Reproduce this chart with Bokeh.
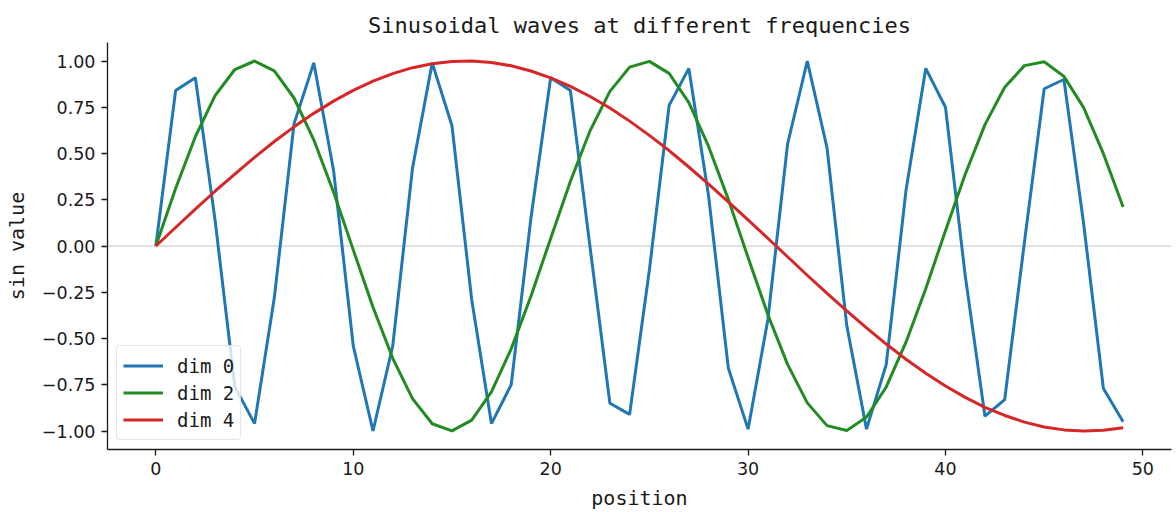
from bokeh.plotting import figure
from bokeh.models import Range1d, FixedTicker, Span, Legend, LegendItem, ColumnDataSource
from bokeh.embed import file_html
from bokeh.resources import INLINE

# Position index along the sequence
position = list(range(50))

# Sine values per encoding dimension
dim0 = [0.00, 0.84, 0.91, 0.14, -0.76, -0.96, -0.28, 0.66, 0.99, 0.41,
        -0.54, -1.00, -0.54, 0.42, 0.99, 0.65, -0.29, -0.96, -0.75, 0.15,
        0.91, 0.84, -0.01, -0.85, -0.91, -0.13, 0.76, 0.96, 0.27, -0.66,
        -0.99, -0.40, 0.55, 1.00, 0.53, -0.43, -0.99, -0.64, 0.30, 0.96,
        0.75, -0.16, -0.92, -0.83, 0.02, 0.85, 0.90, 0.12, -0.77, -0.95]
dim2 = [0.000, 0.311, 0.591, 0.813, 0.954, 1.000, 0.947, 0.800, 0.574, 0.292,
        -0.021, -0.331, -0.607, -0.825, -0.961, -0.999, -0.941, -0.788, -0.556, -0.272,
        0.041, 0.350, 0.624, 0.836, 0.967, 0.998, 0.933, 0.775, 0.538, 0.252,
        -0.062, -0.370, -0.640, -0.848, -0.971, -0.997, -0.925, -0.762, -0.520, -0.231,
        0.083, 0.388, 0.656, 0.858, 0.975, 0.996, 0.917, 0.748, 0.499, 0.211]
dim4 = [0.000, 0.100, 0.199, 0.296, 0.389, 0.479, 0.565, 0.644, 0.717, 0.783,
        0.841, 0.891, 0.932, 0.964, 0.985, 0.997, 1.000, 0.992, 0.974, 0.946,
        0.909, 0.863, 0.808, 0.746, 0.675, 0.598, 0.516, 0.427, 0.335, 0.239,
        0.141, 0.042, -0.058, -0.158, -0.256, -0.351, -0.443, -0.530, -0.612, -0.688,
        -0.757, -0.818, -0.872, -0.916, -0.952, -0.978, -0.994, -1.000, -0.996, -0.983]

series_names = ["dim 0", "dim 2", "dim 4"]
series_colors = ["#1f77b4", "#228b22", "#d62728"]

x_ticks = [0, 10, 20, 30, 40, 50]
y_ticks = [-1.0, -0.75, -0.5, -0.25, 0.0, 0.25, 0.5, 0.75, 1.0]

MONO = "DejaVu Sans Mono"
SANS = "DejaVu Sans"
INK = "#1a1a1a"

p = figure(width=1176, height=512, output_backend="svg", toolbar_location=None,
           x_range=Range1d(-2.45, 51.45), y_range=Range1d(-1.1, 1.1),
           min_border_left=107, min_border_right=5, min_border_top=42,
           min_border_bottom=63)

p.title.text = "Sinusoidal waves at different frequencies"
p.title.text_font = MONO
p.title.text_font_size = "22px"
p.title.text_font_style = "normal"
p.title.align = "center"
p.title.text_color = INK
p.title.standoff = 9
p.title.offset = 0

p.outline_line_color = None
p.background_fill_color = "white"
p.border_fill_color = "white"
p.xgrid.visible = False
p.ygrid.visible = False

# Zero reference line
p.add_layout(Span(location=0, dimension="width", line_color="#c4c4c4",
                  line_width=1, level="underlay"))

items = []
for name, vals, col in zip(series_names, [dim0, dim2, dim4], series_colors):
    src = ColumnDataSource(dict(x=position, y=vals))
    r = p.line("x", "y", source=src, line_color=col, line_width=3)
    items.append(LegendItem(label=name, renderers=[r]))

legend = Legend(items=items, location="bottom_left")
legend.label_text_font = MONO
legend.label_text_font_size = "19px"
legend.label_text_color = INK
legend.glyph_width = 40
legend.glyph_height = 27
legend.label_height = 27
legend.label_standoff = 14
legend.spacing = 0
legend.padding = 6
legend.margin = 9
legend.border_line_color = "#cccccc"
legend.border_line_width = 1.2
legend.border_radius = 4
legend.background_fill_alpha = 0.8
p.add_layout(legend)

for ax in (p.xaxis[0], p.yaxis[0]):
    ax.axis_line_color = INK
    ax.axis_line_width = 1.3
    ax.major_tick_line_color = INK
    ax.major_tick_line_width = 1.3
    ax.major_tick_out = 6
    ax.major_tick_in = 0
    ax.minor_tick_line_color = None
    ax.major_label_text_font = SANS
    ax.major_label_text_font_size = "17.5px"
    ax.major_label_text_color = INK
    ax.axis_label_text_font = MONO
    ax.axis_label_text_font_size = "20px"
    ax.axis_label_text_font_style = "normal"
    ax.axis_label_text_color = INK

p.xaxis.ticker = FixedTicker(ticks=x_ticks)
p.yaxis.ticker = FixedTicker(ticks=y_ticks)
p.yaxis.major_label_overrides = {
    t: ("\u2212" if t < 0 else "") + "%.2f" % abs(t) for t in y_ticks
}
p.xaxis.axis_label = "position"
p.yaxis.axis_label = "sin value"
p.xaxis.major_label_standoff = 6
p.yaxis.major_label_standoff = 6
p.xaxis.axis_label_standoff = 8
p.yaxis.axis_label_standoff = 10

open("out.html", "w").write(file_html(p, INLINE))
